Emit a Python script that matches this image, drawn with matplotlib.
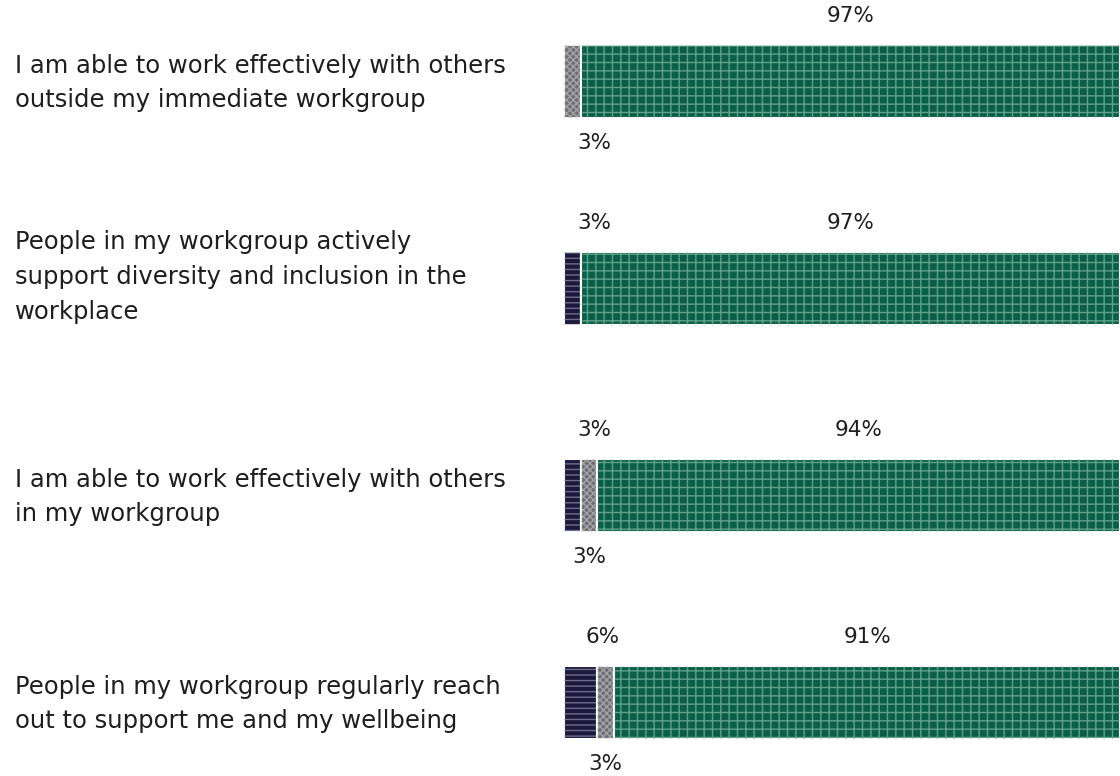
import matplotlib
matplotlib.use("Agg")
from matplotlib import pyplot as plt

# Data
questions = [
    "I am able to work effectively with others\noutside my immediate workgroup",
    "People in my workgroup actively\nsupport diversity and inclusion in the\nworkplace",
    "I am able to work effectively with others\nin my workgroup",
    "People in my workgroup regularly reach\nout to support me and my wellbeing",
]
disagree = [0, 3, 3, 6]
neutral = [3, 0, 3, 3]
agree = [97, 97, 94, 91]

colors = ["#1b1a3c", "#6e6e72", "#0c5f47"]
hatch_colors = ["#9a98b8", "#c0c0c4", "#8cc4ae"]
hatches = ["---", "xxxxx", "++"]

plt.rcParams["font.family"] = ["DejaVu Sans"]
plt.rcParams["hatch.linewidth"] = 1.0

fig = plt.figure(figsize=(11.2, 7.76), dpi=100)
ax = fig.add_axes([564 / 1120, 0, 1 - 564 / 1120, 1])

ys = list(range(len(questions)))
bar_h = 0.35
series = [disagree, neutral, agree]

lefts = [0] * len(questions)
for k, vals in enumerate(series):
    # base bar with white edge to give the gaps between segments
    ax.barh(ys, vals, left=lefts, height=bar_h, color=colors[k],
            edgecolor="white", linewidth=1.5)
    # hatch overlay
    ax.barh(ys, vals, left=lefts, height=bar_h, color="none",
            edgecolor=hatch_colors[k], linewidth=0, hatch=hatches[k], alpha=0.65)
    for i, v in enumerate(vals):
        if v == 0:
            continue
        cx = lefts[i] + v / 2
        if lefts[i] == 0:
            cx += 4
        # agree and disagree labels above, neutral below
        if k == 1:
            ax.annotate(f"{v}%", (cx, ys[i] + bar_h / 2), xytext=(0, -18),
                        textcoords="offset points", ha="center", va="center",
                        fontsize=15.5, color="#1e1e1e")
        else:
            ax.annotate(f"{v}%", (cx, ys[i] - bar_h / 2), xytext=(0, 21),
                        textcoords="offset points", ha="center", va="center",
                        fontsize=15.5, color="#1e1e1e")
    lefts = [a + b for a, b in zip(lefts, vals)]

for i, q in enumerate(questions):
    y_pix = 83 + 207 * i
    if q.count("\n") > 1:
        y_pix -= 13
    fig.text(15 / 1120, 1 - y_pix / 776, q, ha="left", va="center",
             fontsize=17.5, color="#1e1e1e", linespacing=1.57)

ax.set_xlim(0, 100)
ax.set_ylim((776 - 81.5) / 207, -81.5 / 207)
ax.axis("off")

plt.savefig("out.png", dpi=100)
